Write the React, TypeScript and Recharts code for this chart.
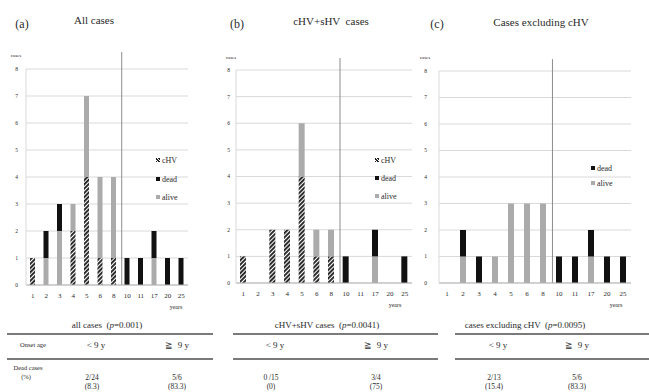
import React from "react";
import { BarChart, Bar, XAxis, YAxis, CartesianGrid, ReferenceLine } from "recharts";

// onset age (years) on the x axis, shared by all three panels
const years = ["1", "2", "3", "4", "5", "6", "8", "10", "11", "17", "20", "25"];

// (a) all cases
const allChv = [1, 0, 0, 2, 4, 1, 1, 0, 0, 0, 0, 0];
const allAlive = [0, 1, 2, 1, 3, 3, 3, 0, 0, 1, 0, 0];
const allDead = [0, 1, 1, 0, 0, 0, 0, 1, 1, 1, 1, 1];

// (b) cHV+sHV cases
const mixChv = [1, 0, 2, 2, 4, 1, 1, 0, 0, 0, 0, 0];
const mixAlive = [0, 0, 0, 0, 2, 1, 1, 0, 0, 1, 0, 0];
const mixDead = [0, 0, 0, 0, 0, 0, 0, 1, 0, 1, 0, 1];

// (c) cases excluding cHV
const exAlive = [0, 1, 0, 1, 3, 3, 3, 0, 0, 1, 0, 0];
const exDead = [0, 1, 1, 0, 0, 0, 0, 1, 1, 1, 1, 1];

const yTicks = [0, 1, 2, 3, 4, 5, 6, 7, 8];

// table below the charts
const tableTitles = ["all cases", "cHV+sHV cases", "cases excluding cHV"];
const tableP = ["0.001", "0.0041", "0.0095"];
const onsetGroups = ["< 9 y", "\u2267  9 y"];
const deadUnder = ["2/24", "0 /15", "2/13"];
const deadOver = ["5/6", "3/4", "5/6"];
const pctUnder = ["(8.3)", "(0)", "(15.4)"];
const pctOver = ["(83.3)", "(75)", "(83.3)"];

const FONT = "'Liberation Serif', 'DejaVu Serif', serif";
const INK = "#2a2a2a";
const DEAD = "#111111";
const ALIVE = "#ababab";
const GRID = "#d9d9d9";

const toRows = (chv: number[] | null, alive: number[], dead: number[]) =>
  years.map((y, i) => ({ year: y, chv: chv ? chv[i] : 0, alive: alive[i], dead: dead[i] }));

function T({ x, y, size, children, style }: any) {
  return (
    <div
      style={{
        position: "absolute",
        left: x,
        top: y,
        transform: "translate(-50%, -50%)",
        fontSize: size,
        lineHeight: 1,
        whiteSpace: "pre",
        color: INK,
        ...style,
      }}
    >
      {children}
    </div>
  );
}

function Panel({ left, width, rows, hasChv, margin, barSize, tickMargin, sepTop, pid }: any) {
  return (
    <div style={{ position: "absolute", left, top: 0 }}>
      <BarChart width={width} height={310} data={rows} margin={margin} barCategoryGap={0}>
        <defs>
          <pattern id={pid} width="3" height="3" patternUnits="userSpaceOnUse" patternTransform="rotate(45)">
            <rect width="3" height="3" fill="#ffffff" />
            <rect width="1.9" height="3" fill="#222222" />
          </pattern>
        </defs>
        <CartesianGrid vertical={false} stroke={GRID} />
        <XAxis
          dataKey="year"
          interval={0}
          tickLine={false}
          axisLine={{ stroke: "#b5b5b5" }}
          tick={{ fontSize: 7, fill: INK, fontFamily: FONT }}
          height={20}
        />
        {/* index axis, used only to place the <9 / >=9 divider between categories */}
        <XAxis xAxisId="sep" type="number" domain={[0, 11]} allowDataOverflow hide />
        <YAxis
          domain={[0, 8]}
          ticks={yTicks}
          width={16}
          tickLine={false}
          tickMargin={tickMargin}
          axisLine={{ stroke: GRID }}
          tick={{ fontSize: 5.5, fill: INK, fontFamily: FONT }}
        />
        {hasChv && (
          <Bar dataKey="chv" stackId="s" fill={`url(#${pid})`} barSize={barSize} isAnimationActive={false} />
        )}
        <Bar dataKey="alive" stackId="s" fill={ALIVE} barSize={barSize} isAnimationActive={false} />
        <Bar dataKey="dead" stackId="s" fill={DEAD} barSize={barSize} isAnimationActive={false} />
        <ReferenceLine
          xAxisId="sep"
          segment={[
            { x: 6.5, y: 0 },
            { x: 6.5, y: sepTop },
          ]}
          stroke="#8c8c8c"
          strokeWidth={1}
          ifOverflow="visible"
        />
      </BarChart>
    </div>
  );
}

function Legend({ x, ys, items }: any) {
  return (
    <>
      {items.map((it: string, i: number) => (
        <div
          key={it}
          style={{
            position: "absolute",
            left: x,
            top: ys[i] - 5,
            height: 10,
            display: "flex",
            alignItems: "center",
            fontSize: 8,
            color: INK,
          }}
        >
          <span
            style={{
              display: "inline-block",
              width: 4,
              height: 4,
              marginRight: 2,
              background:
                it === "cHV"
                  ? "repeating-linear-gradient(45deg, #222222 0 1px, #ffffff 1px 2px)"
                  : it === "dead"
                  ? DEAD
                  : ALIVE,
            }}
          />
          {it}
        </div>
      ))}
    </>
  );
}

export default function App() {
  const lineSpans = [
    [7, 213],
    [233, 438],
    [455, 649],
  ];
  const titleX = [107, 327, 525];
  const underX = [96, 275, 498];
  const overX = [177, 376, 577];

  return (
    <div
      style={{
        position: "absolute",
        left: 0,
        top: 0,
        width: 649,
        height: 392,
        overflow: "hidden",
        background: "#ffffff",
        fontFamily: FONT,
      }}
    >
      <Panel
        left={0}
        width={215}
        rows={toRows(allChv, allAlive, allDead)}
        hasChv
        margin={{ top: 69, right: 27, bottom: 5, left: 10 }}
        barSize={5}
        tickMargin={2}
        sepTop={8.63}
        pid="hatchA"
      />
      <Panel
        left={215}
        width={215}
        rows={toRows(mixChv, mixAlive, mixDead)}
        hasChv
        margin={{ top: 70, right: 18, bottom: 7, left: 5 }}
        barSize={6}
        tickMargin={0}
        sepTop={8.45}
        pid="hatchB"
      />
      <Panel
        left={410}
        width={239}
        rows={toRows(null, exAlive, exDead)}
        hasChv={false}
        margin={{ top: 71, right: 18, bottom: 7, left: 13 }}
        barSize={6}
        tickMargin={6}
        sepTop={8.45}
        pid="hatchC"
      />

      {/* panel headings */}
      <T x={22} y={24} size={12}>(a)</T>
      <T x={94} y={20} size={11}>All cases</T>
      <T x={237} y={24} size={12}>(b)</T>
      <T x={331} y={21} size={11}>{"cHV+sHV  cases"}</T>
      <T x={437} y={24} size={12}>(c)</T>
      <T x={541} y={22} size={11}>Cases excluding cHV</T>

      <T x={16} y={55} size={5}>cases</T>
      <T x={231} y={57} size={5}>cases</T>
      <T x={425} y={57} size={5}>cases</T>

      <T x={176} y={307} size={6}>years</T>
      <T x={395} y={305} size={6}>years</T>
      <T x={616} y={305} size={6}>years</T>

      <Legend x={156} ys={[160, 179, 197]} items={["cHV", "dead", "alive"]} />
      <Legend x={375} ys={[160, 178, 196]} items={["cHV", "dead", "alive"]} />
      <Legend x={591} ys={[168, 183]} items={["dead", "alive"]} />

      {/* summary table */}
      {lineSpans.map(([a, b], i) => (
        <React.Fragment key={i}>
          <div style={{ position: "absolute", left: a, top: 333, width: b - a, height: 1.5, background: "#7a7a7a" }} />
          <div style={{ position: "absolute", left: a, top: 358, width: b - a, height: 1.5, background: "#7a7a7a" }} />
          <T x={titleX[i]} y={325} size={9}>
            {tableTitles[i]}
            {"  ("}
            <i>p</i>
            {"=" + tableP[i] + ")"}
          </T>
          <T x={underX[i]} y={345} size={9}>{onsetGroups[0]}</T>
          <T x={overX[i]} y={345} size={9}>{onsetGroups[1]}</T>
          <T x={underX[i] - 4} y={378} size={7.5}>{deadUnder[i]}</T>
          <T x={overX[i]} y={378} size={7.5}>{deadOver[i]}</T>
          <T x={underX[i] - 4} y={387} size={7.5}>{pctUnder[i]}</T>
          <T x={overX[i]} y={387} size={7.5}>{pctOver[i]}</T>
        </React.Fragment>
      ))}
      <T x={33} y={345} size={6.5}>Onset age</T>
      <T x={28} y={368} size={6.5}>Dead cases</T>
      <T x={26} y={377} size={6.5}>(%)</T>
    </div>
  );
}
